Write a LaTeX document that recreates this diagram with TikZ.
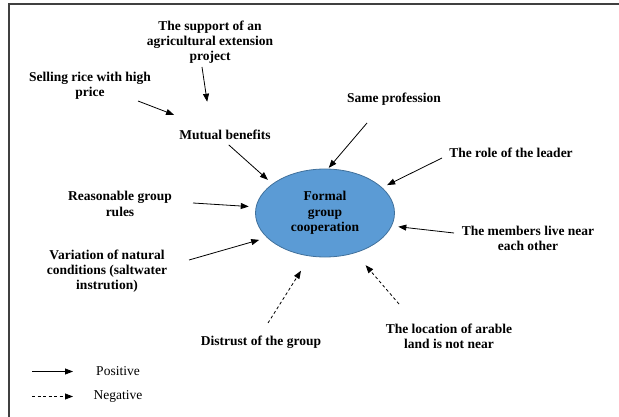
\documentclass[tikz,border=0pt]{standalone}
\usepackage{fontspec}
\setmainfont{LiberationSerif}[Extension=.ttf, UprightFont=*-Regular, BoldFont=*-Bold]
\usetikzlibrary{arrows.meta,shapes.geometric}
\definecolor{coopblue}{HTML}{5B9BD5}
\definecolor{coopedge}{HTML}{41719C}
\begin{document}
\begin{tikzpicture}[
        x=1pt, y=-1pt,
        factor/.style={font=\rmfamily\fontsize{13.5}{15.3}\selectfont\bfseries, align=center, inner sep=2pt},
        core/.style={ellipse, draw=coopedge, fill=coopblue, line width=0.8pt, minimum width=139pt, minimum height=88pt, inner sep=0pt, align=center, font=\rmfamily\fontsize{13.5}{15.3}\selectfont\bfseries},
        posarrow/.style={-{Triangle[length=8pt,width=6pt]}, line width=0.8pt},
        negarrow/.style={posarrow, dash pattern=on 3pt off 2.5pt},
        legtext/.style={font=\rmfamily\fontsize{13.5}{15.3}\selectfont}
    ]
        \useasboundingbox (0,0) rectangle (619,417);
        \draw[line width=1.2pt, black!75] (9,417) |- (619,4);

        % Factors and the core
        \node[factor] (sup) at (210,42) {The support of an\\agricultural extension\\project};
        \node[factor] (sel) at (90,85.5) {Selling rice with high\\price};
        \node[factor] (mut) at (225,134.5) {Mutual benefits};
        \node[factor] (same) at (394,99.5) {Same profession};
        \node[factor] (role) at (511,153) {The role of the leader};
        \node[factor] (rules) at (120,204) {Reasonable group\\rules};
        \node[core] (coop) at (325,213) {Formal\\group\\cooperation};
        \node[factor] (mem) at (528,238.5) {The members live near\\each other};
        \node[factor] (var) at (107,271) {Variation of natural\\conditions (saltwater\\instrution)};
        \node[factor] (dis) at (261,342) {Distrust of the group};
        \node[factor] (loc) at (449,336.5) {The location of arable\\land is not near};

        % Arrow tails
        \coordinate (tsup) at (202,67);
        \coordinate (tsel) at (138,101);
        \coordinate (tsame) at (367,123);
        \coordinate (trole) at (442,158);
        \coordinate (tmem) at (454,233);
        \coordinate (trules) at (193,203);
        \coordinate (tvar) at (189,260);
        \coordinate (tdis) at (268,323);
        \coordinate (tloc) at (399,304);

        % Influences
        \draw[posarrow, shorten >=26pt] (tsup) -- ([xshift=-14pt]mut.north);
        \draw[posarrow, shorten >=54.6pt] (tsel) -- (mut.center);
        \draw[posarrow, shorten <=5pt, shorten >=6pt] (mut.south) -- (coop.151);
        \draw[posarrow, shorten >=1pt] (tsame) -- (coop.86);
        \draw[posarrow, shorten >=5.5pt] (trole) -- (coop.24);
        \draw[posarrow, shorten >=6.5pt] (tmem) -- (coop.-11.6);
        \draw[posarrow, shorten >=7pt] (trules) -- (coop.175.5);
        \draw[posarrow, shorten >=8pt] (tvar) -- (coop.203);
        \draw[negarrow, shorten >=17pt] (tdis) -- (coop.251);
        \draw[negarrow, shorten >=16pt] (tloc) -- (coop.307);

        % Legend
        \node[legtext] (lpos) at (118,371.5) {Positive};
        \node[legtext] (lneg) at (118,396.5) {Negative};
        \coordinate (lp) at (32,371.5);
        \coordinate (ln) at (32,396.5);
        \draw[posarrow] (lp) -- ++(41,0);
        \draw[negarrow] (ln) -- ++(41,0);
\end{tikzpicture}
\end{document}
